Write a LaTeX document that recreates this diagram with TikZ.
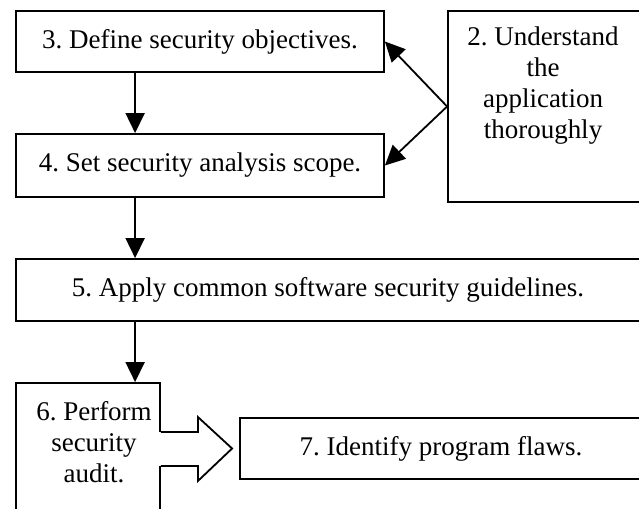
\documentclass[tikz,border=0pt]{standalone}
\usepackage{fontspec}
\setmainfont{Liberation Serif}
\usepackage{tikz}
\usetikzlibrary{calc}
\usetikzlibrary{positioning}
\usetikzlibrary{arrows.meta}

\begin{document}
\frenchspacing
\begin{tikzpicture}[x=0.5pt, y=-0.5pt,
		box/.style={rectangle, draw, line width=0.9pt, inner sep=0pt, font=\fontsize{13.5}{15.5}\selectfont},
		txt/.style={inner sep=0pt, align=center, anchor=north, font=\fontsize{13.5}{15.5}\selectfont},
		arr/.style={line width=0.9pt, -{Triangle[width=9.5pt,length=10pt]}}]
				\useasboundingbox (0,0) rectangle (639,509);
				\clip (0,0) rectangle (639,509);
				
				\node[box, minimum width=184pt, minimum height=30.5pt] (3) at (200,41.5) {3. Define security objectives.};
				\node[box, minimum width=184pt, minimum height=31.5pt] (4) at (200,165.5) {4. Set security analysis scope.};
				\node[box, minimum width=97pt, minimum height=95.5pt] (2) at (545,106.5) {};
				\node[txt] (2text) at (543,26.6) {2. Understand\\the\\application\\thoroughly};
				\node[box, minimum width=312pt, minimum height=31pt] (5) at (328,290) {5. Apply common software security guidelines.};
				\node[box, minimum width=72pt, minimum height=66pt] (6) at (88,449) {};
				\node[txt] (6text) at (94,400.6) {6. Perform\\security\\audit.};
				\node[box, minimum width=201pt, minimum height=30.5pt] (7) at (441,448.5) {7. Identify program flaws.};
				
				\draw[arr] ([xshift=60pt]3.south west) -- ([xshift=60pt]4.north west);
				\draw[arr] ([xshift=60pt]4.south west) -- ([xshift=60pt]5.north west);
				\draw[arr] ([xshift=60pt]5.south west) -- ([xshift=60pt]6.north west);
				\draw[arr] (2.west) -- (3.east);
				\draw[arr] (2.west) -- (4.east);
				
				% block arrow from 6 to 7
				\fill[white] ($(6.east)+(-3,-17)$) rectangle ($(6.east)+(37,17)$);
				\draw[line width=0.9pt, line join=miter] (6.east) ++(0,-17) -- ++(37,0) -- ++(0,-15) -- ([xshift=-3.5pt]7.west) -- ($(6.east)+(37,32)$) -- ++(0,-15) -- ++(-37,0);
			\end{tikzpicture}
\end{document}
